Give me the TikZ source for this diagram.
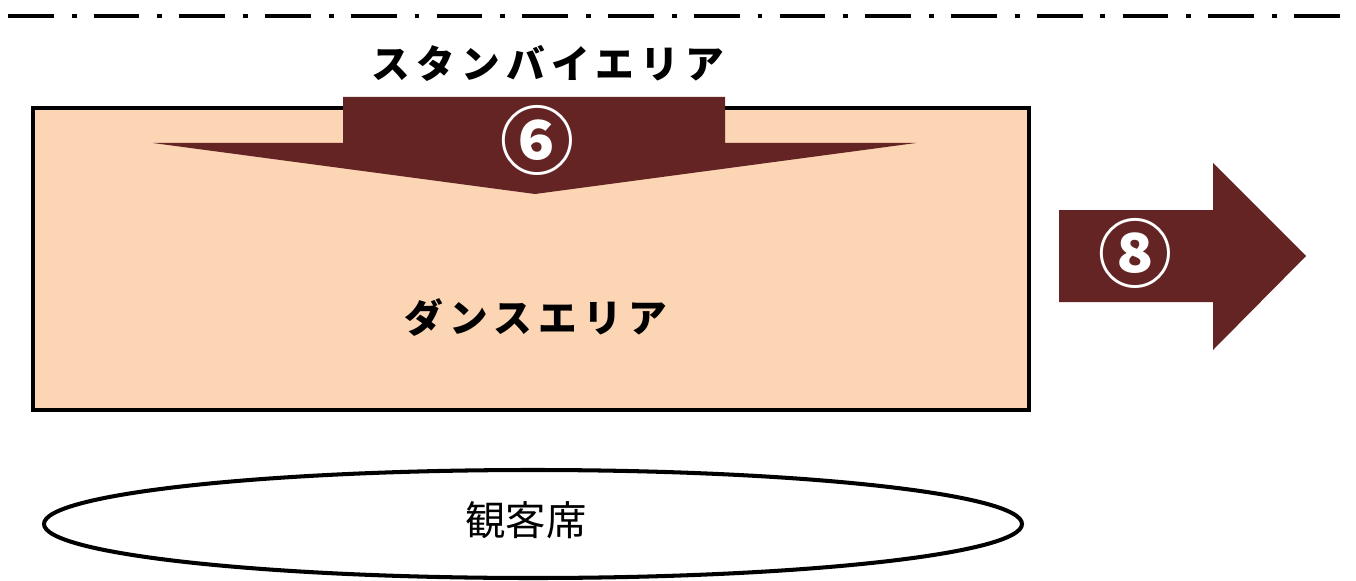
\documentclass[tikz,border=0pt]{standalone}
\usepackage{fontspec}
\newfontfamily\jp{Noto Sans CJK JP}
\newfontfamily\jpsp[LetterSpace=16]{Noto Sans CJK JP}
\definecolor{peach}{HTML}{FBD5B4}
\definecolor{maroon}{HTML}{632423}
\tikzset{
  area/.style={draw=black, line width=2.3pt},
  arrowfill/.style={fill=maroon, draw=none},
  title/.style={font=\jpsp\bfseries\fontsize{22}{26}\selectfont, inner sep=0pt},
  numlabel/.style={font=\jp\bfseries\fontsize{42}{44}\selectfont, text=white, inner sep=0pt}
}
\begin{document}
\begin{tikzpicture}[x=0.02cm,y=-0.02cm]
   \useasboundingbox (0,0) rectangle (1356,581);
   % boundary line
   \draw[line width=2.8pt, dash pattern=on 26pt off 10.2pt on 2.8pt off 9.8pt] (8,16) -- (1350,16);
   % dance area
   \draw[area, fill=peach] (33,108) rectangle (1029,410);
   \draw[arrowfill] (343,97) -- (725,97) -- (725,143) -- (916,143) -- (535,194)
     -- (153,143) -- (343,143) -- cycle;
   \node[numlabel] (six) at (537,140) {⑥};
   \node[title] (standby) at (548,63) {スタンバイエリア};
   \node[title] (dance) at (536,318) {ダンスエリア};
   % exit arrow
   \draw[arrowfill] (1059,210) -- (1213,210) -- (1213,163) -- (1306,256) -- (1213,350)
     -- (1213,302) -- (1059,302) -- cycle;
   \node[numlabel] (eight) at (1135,253) {⑧};
   % audience
   \draw[area] (533,524) ellipse (489 and 54);
   \node[font=\jp\fontsize{23}{27}\selectfont, inner sep=0pt] (seats) at (526,520) {観客席};
\end{tikzpicture}
\end{document}
